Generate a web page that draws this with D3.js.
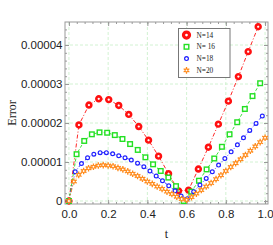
<!DOCTYPE html>
<html>
<head>
<meta charset="utf-8">
<script src="https://cdn.jsdelivr.net/npm/d3@7"></script>
<style>
    body { margin: 0; background: #fff; }
    svg { display: block; font-family: "Liberation Serif", "DejaVu Serif", serif; }
    .axis text { font-size: 11.5px; fill: #222; }
    .axis path { display: none; }
    .axis line { stroke: #999; }
</style>
</head>
<body>
<script>
// errors are in units of 1e-5
const unit = 1e-5;

const tN14 = [0, 0.051, 0.102, 0.152, 0.203, 0.254, 0.305, 0.356, 0.406, 0.457,
    0.508, 0.559, 0.610, 0.660, 0.711, 0.762, 0.813, 0.864, 0.914, 0.965];
const errN14 = [0, 1.95, 2.46, 2.62, 2.60, 2.45, 2.22, 1.91, 1.56, 1.15,
    0.70, 0.26, 0.28, 0.82, 1.38, 1.97, 2.56, 3.19, 3.83, 4.47];

const tN16 = [0, 0.039, 0.078, 0.117, 0.156, 0.195, 0.234, 0.273, 0.312, 0.351,
    0.390, 0.429, 0.468, 0.507, 0.546, 0.585, 0.624, 0.663, 0.702, 0.741,
    0.780, 0.819, 0.858, 0.897, 0.936, 0.975];
const errN16 = [0, 1.20, 1.54, 1.71, 1.76, 1.75, 1.69, 1.59, 1.46, 1.31,
    1.12, 0.94, 0.77, 0.60, 0.38, 0.00, 0.24, 0.52, 0.81, 1.09,
    1.39, 1.71, 2.02, 2.36, 2.69, 3.02];

const tN18 = [0, 0.032, 0.064, 0.095, 0.127, 0.159, 0.191, 0.223, 0.254, 0.286,
    0.318, 0.350, 0.382, 0.413, 0.445, 0.477, 0.509, 0.541, 0.572, 0.604,
    0.636, 0.668, 0.700, 0.731, 0.763, 0.795, 0.827, 0.859, 0.890, 0.922,
    0.954, 0.986];
const errN18 = [0, 0.75, 0.96, 1.11, 1.20, 1.24, 1.24, 1.21, 1.16, 1.11,
    1.05, 0.97, 0.88, 0.77, 0.64, 0.52, 0.39, 0.26, 0.13, 0.06,
    0.24, 0.41, 0.58, 0.75, 0.92, 1.09, 1.26, 1.44, 1.62, 1.81,
    1.99, 2.18];

const tN20 = [0, 0.025, 0.05, 0.075, 0.1, 0.125, 0.15, 0.175, 0.2, 0.225,
    0.25, 0.275, 0.3, 0.325, 0.35, 0.375, 0.4, 0.425, 0.45, 0.475,
    0.5, 0.525, 0.55, 0.575, 0.6, 0.625, 0.65, 0.675, 0.7, 0.725,
    0.75, 0.775, 0.8, 0.825, 0.85, 0.875, 0.9, 0.925, 0.95, 0.975, 1.0];
const errN20 = [0, 0.50, 0.67, 0.77, 0.84, 0.88, 0.91, 0.92, 0.91, 0.89,
    0.85, 0.81, 0.76, 0.70, 0.64, 0.57, 0.50, 0.44, 0.37, 0.31,
    0.24, 0.18, 0.11, 0.05, 0.03, 0.10, 0.19, 0.28, 0.37, 0.46,
    0.56, 0.66, 0.77, 0.87, 0.97, 1.07, 1.18, 1.29, 1.40, 1.51, 1.62];

const seriesNames = ["N=14", "N= 16", "N=18", "N=20"];
const seriesColors = ["#ff1010", "#22e022", "#2020ff", "#ff8a1a"];

const xTicks = [0, 0.2, 0.4, 0.6, 0.8, 1.0];
const xTickLabels = ["0.0", "0.2", "0.4", "0.6", "0.8", "1.0"];
const yTicks = [0, 1, 2, 3, 4];
const yTickLabels = ["0", "0.00001", "0.00002", "0.00003", "0.00004"];

let width = 273,
    height = 245,
    margin = {left: 65, right: 5, top: 22, bottom: 41},
    innerW = width - margin.left - margin.right,
    innerH = height - margin.top - margin.bottom;

let series = [
    {name: seriesNames[0], color: seriesColors[0], t: tN14, e: errN14, dash: "4,2,1,2", mark: "ring"},
    {name: seriesNames[1], color: seriesColors[1], t: tN16, e: errN16, dash: "3,2", mark: "square"},
    {name: seriesNames[2], color: seriesColors[2], t: tN18, e: errN18, dash: "4,2,1,2", mark: "circle"},
    {name: seriesNames[3], color: seriesColors[3], t: tN20, e: errN20, dash: "4,2,1,2", mark: "sun"}
];

let svg = d3.select("body")
    .append("svg")
        .attr("width", width)
        .attr("height", height);

let xScale = d3.scaleLinear()
    .domain([-0.02, 1.015])
    .range([margin.left, margin.left + innerW]);
let yScale = d3.scaleLinear()
    .domain([-0.077 * unit, 4.59 * unit])
    .range([margin.top + innerH, margin.top]);

// grid
let grid = svg.append("g")
    .attr("stroke", "#c6efc6")
    .attr("stroke-dasharray", "3,2")
    .attr("stroke-width", 0.8);
grid.selectAll(".gx")
    .data(xTicks)
    .enter()
    .append("line")
        .attr("x1", d => xScale(d))
        .attr("x2", d => xScale(d))
        .attr("y1", margin.top)
        .attr("y2", margin.top + innerH);
grid.selectAll(".gy")
    .data(yTicks)
    .enter()
    .append("line")
        .attr("x1", margin.left)
        .attr("x2", margin.left + innerW)
        .attr("y1", d => yScale(d * unit))
        .attr("y2", d => yScale(d * unit));

// axes: major and minor ticks on all four sides, pointing inward
let xMinor = d3.range(0, 1.0001, 0.04),
    yMinor = d3.range(0, 4.5, 0.2).map(v => v * unit);

const addAxis = (axisFn, scale, ticks, labels, size, transform, pad) => {
    let axis = axisFn(scale)
        .tickValues(ticks)
        .tickSize(-size)
        .tickPadding(pad);
    if (labels) axis.tickFormat((d, i) => labels[i]);
    else axis.tickFormat("");
    svg.append("g")
        .classed("axis", true)
        .attr("transform", transform)
        .call(axis);
};

let bottomT = "translate(0," + (margin.top + innerH) + ")",
    topT = "translate(0," + margin.top + ")",
    leftT = "translate(" + margin.left + ",0)",
    rightT = "translate(" + (margin.left + innerW) + ",0)",
    yMajor = yTicks.map(d => d * unit);

addAxis(d3.axisBottom, xScale, xTicks, xTickLabels, 4, bottomT, 6);
addAxis(d3.axisBottom, xScale, xMinor, null, 2, bottomT, 6);
addAxis(d3.axisTop, xScale, xTicks, null, 4, topT, 3);
addAxis(d3.axisTop, xScale, xMinor, null, 2, topT, 3);
addAxis(d3.axisLeft, yScale, yMajor, yTickLabels, 4, leftT, 2.5);
addAxis(d3.axisLeft, yScale, yMinor, null, 2, leftT, 2.5);
addAxis(d3.axisRight, yScale, yMajor, null, 4, rightT, 3);
addAxis(d3.axisRight, yScale, yMinor, null, 2, rightT, 3);

svg.append("rect")
    .attr("x", margin.left)
    .attr("y", margin.top)
    .attr("width", innerW)
    .attr("height", innerH)
    .attr("fill", "none")
    .attr("stroke", "#999")
    .attr("stroke-width", 1);

// axis titles
svg.append("text")
    .attr("x", margin.left + innerW / 2)
    .attr("y", 238)
    .attr("text-anchor", "middle")
    .style("font-size", "12px")
    .attr("fill", "#222")
    .text("t");
svg.append("text")
    .attr("transform", "translate(16," + (margin.top + innerH / 2) + ") rotate(-90)")
    .attr("text-anchor", "middle")
    .style("font-size", "12px")
    .attr("fill", "#222")
    .text("Error");

// markers
const drawMarker = (g, s, big) => {
    let k = big ? 1.25 : 1;
    if (s.mark === "ring") {
        g.append("circle").attr("r", 2.4 * k)
            .attr("fill", "#fff").attr("stroke", s.color).attr("stroke-width", 2.6 * k);
    } else if (s.mark === "square") {
        g.append("rect").attr("x", -2.3).attr("y", -2.3).attr("width", 4.6).attr("height", 4.6)
            .attr("fill", "#fff").attr("stroke", s.color).attr("stroke-width", 1.4);
    } else if (s.mark === "circle") {
        g.append("circle").attr("r", 1.9)
            .attr("fill", "#fff").attr("stroke", s.color).attr("stroke-width", 1.2);
    } else {
        g.append("path").attr("d", d3.symbol().type(d3.symbolAsterisk).size(30)())
            .attr("stroke", s.color).attr("stroke-width", 1.3).attr("fill", "none");
        g.append("circle").attr("r", 1.5)
            .attr("fill", "#fff").attr("stroke", s.color).attr("stroke-width", 1.1);
    }
};

let line = d3.line()
    .x(d => xScale(d[0]))
    .y(d => yScale(d[1] * unit));

series.forEach(s => {
    let pts = s.t.map((t, i) => [t, s.e[i]]);
    let g = svg.append("g");
    g.append("path")
        .datum(pts)
        .attr("d", line)
        .attr("fill", "none")
        .attr("stroke", s.color)
        .attr("stroke-width", 0.9)
        .attr("stroke-dasharray", s.dash);
    g.selectAll(".pt")
        .data(pts)
        .enter()
        .append("g")
            .attr("transform", d => "translate(" + xScale(d[0]) + "," + yScale(d[1] * unit) + ")")
            .each(function () { drawMarker(d3.select(this), s, false); });
});

// legend
let legend = svg.append("g")
    .attr("transform", "translate(178.5,28.5)");
legend.append("rect")
    .attr("width", 51.5)
    .attr("height", 49)
    .attr("fill", "#fff")
    .attr("stroke", "#777")
    .attr("stroke-width", 1);
series.forEach((s, i) => {
    let row = legend.append("g")
        .attr("transform", "translate(8," + (6.5 + i * 11.8) + ")");
    drawMarker(row, s, true);
    row.append("text")
        .attr("x", 10)
        .attr("y", 2.5)
        .style("font-size", "7.3px")
        .attr("fill", "#222")
        .text(s.name);
});
</script>
</body>
</html>
